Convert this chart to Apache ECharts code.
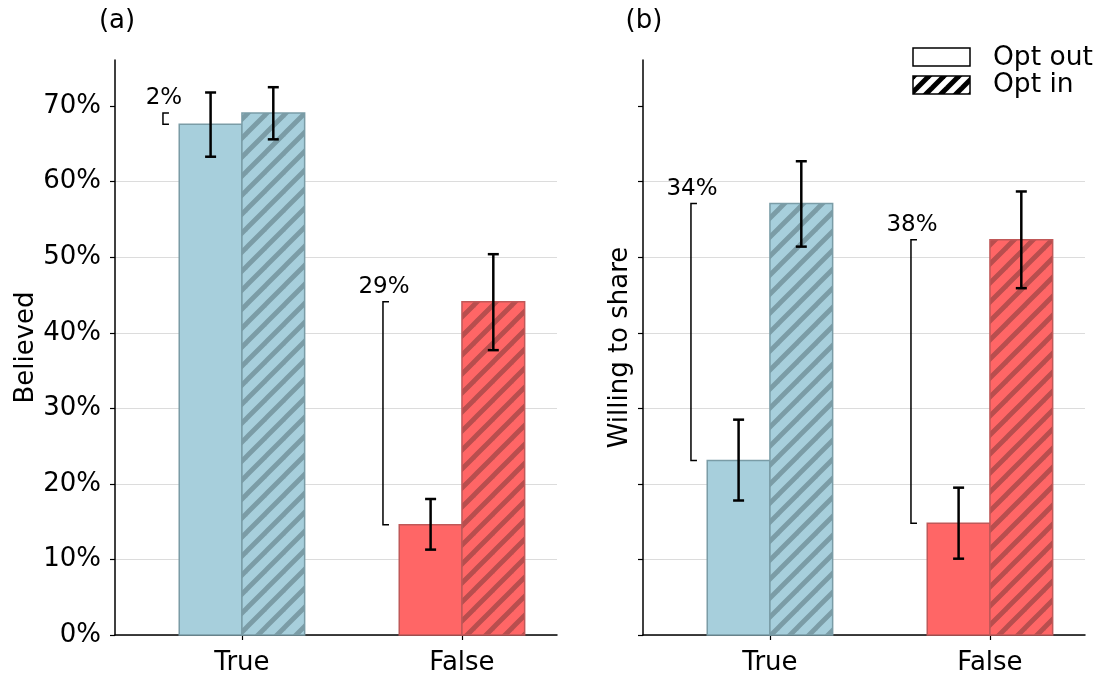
<!DOCTYPE html>
<html><head><meta charset="utf-8">
<script src="https://cdn.jsdelivr.net/npm/echarts@6/dist/echarts.min.js"></script>
<style>html,body{margin:0;padding:0;background:#fff}#c{width:1104px;height:677px}</style>
</head><body><div id="c"></div>
<script>
const categories = ['True', 'False'];
const yTicks = [0, 10, 20, 30, 40, 50, 60, 70];
const believedOptOut = [67.6, 14.6];
const believedOptIn = [69.1, 44.1];
const believedOptOutErr = [[63.3, 71.8], [11.3, 18.0]];
const believedOptInErr = [[65.6, 72.5], [37.7, 50.4]];
const shareOptOut = [23.1, 14.8];
const shareOptIn = [57.1, 52.3];
const shareOptOutErr = [[17.8, 28.5], [10.1, 19.5]];
const shareOptInErr = [[51.4, 62.7], [45.9, 58.7]];
const believedDiffLabels = ['2%', '29%'];
const shareDiffLabels = ['34%', '38%'];
const legendLabels = ['Opt out', 'Opt in'];
const panelLabels = ['(a)', '(b)'];

const FONT = 'DejaVu Sans';
const BW = 0.285;

function makeHatch(bg, stripe, lw, period) {
  const c = document.createElement('canvas');
  c.width = period; c.height = period;
  const g = c.getContext('2d');
  g.fillStyle = bg; g.fillRect(0, 0, period, period);
  g.strokeStyle = stripe; g.lineWidth = lw; g.lineCap = 'square';
  for (let k = -1; k <= 1; k++) {
    g.beginPath();
    g.moveTo(k * period, period);
    g.lineTo(k * period + period, 0);
    g.stroke();
  }
  return { image: c, repeat: 'repeat' };
}

const palettes = [
  { fill: '#a7cfdc', edge: '#7a9ca6', hatch: makeHatch('#a7cfdc', '#7b9ca6', 4.8, 19) },
  { fill: '#ff6666', edge: '#c05858', hatch: makeHatch('#ff6666', '#b84e4e', 4.8, 19) }
];

function barSeries(ai, vals, side, hatched) {
  return {
    type: 'custom', xAxisIndex: ai, yAxisIndex: ai, z: 2,
    data: vals.map((v, i) => [i, v]),
    renderItem(params, api) {
      const i = api.value(0), v = api.value(1);
      const x0 = side < 0 ? i - BW : i, x1 = side < 0 ? i : i + BW;
      const p0 = api.coord([x0, v]), p1 = api.coord([x1, 0]);
      const pal = palettes[i];
      return {
        type: 'rect',
        shape: { x: p0[0], y: p0[1], width: p1[0] - p0[0], height: p1[1] - p0[1] },
        style: { fill: hatched ? pal.hatch : pal.fill, stroke: pal.edge, lineWidth: 1.5 }
      };
    }
  };
}

function errSeries(ai, errs, side) {
  return {
    type: 'custom', xAxisIndex: ai, yAxisIndex: ai, z: 5,
    data: errs.map((e, i) => [i, e[0], e[1]]),
    renderItem(params, api) {
      const i = api.value(0);
      const xc = i + side * BW / 2;
      const lo = api.coord([xc, api.value(1)]), hi = api.coord([xc, api.value(2)]);
      const cap = 5.5, st = { stroke: '#000', lineWidth: 2.5 };
      return {
        type: 'group', children: [
          { type: 'line', shape: { x1: lo[0], y1: lo[1], x2: hi[0], y2: hi[1] }, style: st },
          { type: 'line', shape: { x1: lo[0] - cap, y1: lo[1], x2: lo[0] + cap, y2: lo[1] }, style: st },
          { type: 'line', shape: { x1: hi[0] - cap, y1: hi[1], x2: hi[0] + cap, y2: hi[1] }, style: st }
        ]
      };
    }
  };
}

function bracketSeries(ai, outs, ins, labels) {
  return {
    type: 'custom', xAxisIndex: ai, yAxisIndex: ai, z: 4,
    data: outs.map((v, i) => [i, v, ins[i]]),
    renderItem(params, api) {
      const i = api.value(0);
      const xb = i - BW - 0.074;
      const a = api.coord([xb, api.value(1)]), b = api.coord([xb, api.value(2)]);
      const t = 6;
      const top = Math.min(a[1], b[1]);
      return {
        type: 'group', children: [
          { type: 'polyline', shape: { points: [[a[0] + t, a[1]], [a[0], a[1]], [b[0], b[1]], [b[0] + t, b[1]]] },
            style: { stroke: '#000', lineWidth: 1.5, fill: null } },
          { type: 'text', x: a[0] + 1, y: top - 3,
            style: { text: labels[i], align: 'center', verticalAlign: 'bottom', fontSize: 23, fontFamily: FONT, fill: '#000' } }
        ]
      };
    }
  };
}

const xAxisBase = (gi) => ({
  type: 'value', gridIndex: gi, min: -0.577, max: 1.432,
  splitLine: { show: false },
  axisLine: { show: true, onZero: false, lineStyle: { color: '#000', width: 1.5 } },
  axisTick: { show: true, customValues: [0, 1], length: 5, lineStyle: { color: '#000', width: 1.2 } },
  axisLabel: { customValues: [0, 1], formatter: v => categories[Math.round(v)], fontSize: 26, fontFamily: FONT, color: '#000', margin: 15 }
});
const yAxisBase = (gi, showLabel, name, gap) => ({
  type: 'value', gridIndex: gi, min: 0, max: 76.1, interval: 10,
  name: name, nameLocation: 'middle', nameGap: gap,
  nameTextStyle: { fontSize: 26, fontFamily: FONT, color: '#000' },
  splitLine: { show: true, showMaxLine: false, lineStyle: { color: '#dcdcdc', width: 1 } },
  axisLine: { show: true, onZero: false, lineStyle: { color: '#000', width: 1.5 } },
  axisTick: { show: true, customValues: yTicks, length: 5, lineStyle: { color: '#000', width: 1.2 } },
  axisLabel: { show: showLabel, customValues: yTicks, formatter: v => v + '%', fontSize: 26, fontFamily: FONT, color: '#000', margin: 14 }
});

const legendHatch = makeHatch('#ffffff', '#000000', 5, 15);

const option = {
  animation: false,
  backgroundColor: '#fff',
  grid: [
    { left: 115, right: 547, top: 60, bottom: 42 },
    { left: 643, right: 19, top: 60, bottom: 42 }
  ],
  xAxis: [xAxisBase(0), xAxisBase(1)],
  yAxis: [yAxisBase(0, true, 'Believed', 69), yAxisBase(1, false, 'Willing to share', 10)],
  series: [
    barSeries(0, believedOptOut, -1, false),
    barSeries(0, believedOptIn, 1, true),
    errSeries(0, believedOptOutErr, -1),
    errSeries(0, believedOptInErr, 1),
    bracketSeries(0, believedOptOut, believedOptIn, believedDiffLabels),
    barSeries(1, shareOptOut, -1, false),
    barSeries(1, shareOptIn, 1, true),
    errSeries(1, shareOptOutErr, -1),
    errSeries(1, shareOptInErr, 1),
    bracketSeries(1, shareOptOut, shareOptIn, shareDiffLabels)
  ],
  graphic: [
    { type: 'text', x: 117, y: 21, style: { text: panelLabels[0], align: 'center', verticalAlign: 'middle', fontSize: 26, fontFamily: FONT, fill: '#000' } },
    { type: 'text', x: 644, y: 21, style: { text: panelLabels[1], align: 'center', verticalAlign: 'middle', fontSize: 26, fontFamily: FONT, fill: '#000' } },
    { type: 'rect', shape: { x: 913, y: 48, width: 57, height: 18 }, style: { fill: '#fff', stroke: '#000', lineWidth: 1.5 } },
    { type: 'rect', shape: { x: 913, y: 76, width: 57, height: 18 }, style: { fill: legendHatch, stroke: '#000', lineWidth: 1.5 } },
    { type: 'text', x: 993, y: 58, style: { text: legendLabels[0], align: 'left', verticalAlign: 'middle', fontSize: 26.5, fontFamily: FONT, fill: '#000' } },
    { type: 'text', x: 993, y: 85, style: { text: legendLabels[1], align: 'left', verticalAlign: 'middle', fontSize: 26.5, fontFamily: FONT, fill: '#000' } }
  ]
};

const chart = echarts.init(document.getElementById('c'), null, { renderer: 'canvas' });
chart.setOption(option);
</script>
</body></html>
